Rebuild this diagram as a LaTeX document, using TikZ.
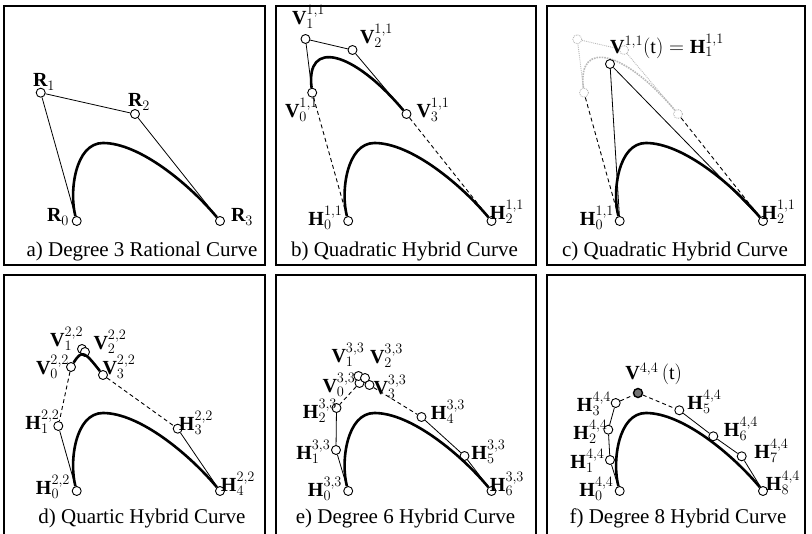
\documentclass[tikz,border=0pt]{standalone}
\usepackage{fontspec}
\setmainfont{Liberation Serif}
\setmathrm{Liberation Serif}
\setboldmathrm{Liberation Serif}
\DeclareMathSizes{20}{20}{14.5}{10}
\newcommand{\mainarc}[3]{%
  \draw[curve] (#1) .. controls (69,192) and (75,143) .. (#2)
    .. controls (140,143) and (190,185) .. (#3);}

\begin{document}
\begin{tikzpicture}[x=1pt, y=-1pt,
  every node/.style={inner sep=0pt},
  ctrl/.style={circle, draw, fill=white, line width=0.9pt, minimum size=9pt},
  ghostpt/.style={circle, draw=gray!55, densely dotted, line width=0.9pt, minimum size=9pt},
  poly/.style={line width=0.8pt},
  guide/.style={line width=0.9pt, dash pattern=on 4pt off 3pt},
  ghost/.style={draw=gray!55, densely dotted, line width=0.9pt},
  curve/.style={line width=2.6pt},
  frame/.style={line width=1.3pt},
  lbl/.style={font=\fontsize{20}{20}\selectfont},
  captext/.style={font=\fontsize{21}{21}\selectfont, anchor=base}
]
\useasboundingbox (0,0) rectangle (812,534);
% Panel a (degree 3 rational)
\begin{scope}
  \draw[frame] (4,6) rectangle (265,265);
  \node[ctrl] (aR0) at (76.7,221) {};
  \node[ctrl] (aR1) at (40.7,92.7) {};
  \node[ctrl] (aR2) at (135,114) {};
  \node[ctrl] (aR3) at (220,221) {};
  \coordinate (aTop) at (103,143);
  \draw[poly] (aR0) -- (aR1) -- (aR2) -- (aR3);
  \mainarc{aR0}{aTop}{aR3}
  \node[lbl] (aR0l) at (58,217) {$\mathbf{R}_0$};
  \node[lbl] (aR1l) at (44,82) {$\mathbf{R}_1$};
  \node[lbl] (aR2l) at (139,102) {$\mathbf{R}_2$};
  \node[lbl] (aR3l) at (242,217) {$\mathbf{R}_3$};
  \node[captext] (acap) at (142,257) {a) Degree 3 Rational Curve};
\end{scope}
% Panel b (quadratic hybrid)
\begin{scope}[shift={(271.5,0)}]
  \draw[frame] (4.5,6) rectangle (264.5,265);
  \node[ctrl] (bV0) at (40.7,92.7) {};
  \node[ctrl] (bV1) at (34,39) {};
  \node[ctrl] (bV2) at (81,50) {};
  \node[ctrl] (bV3) at (135,114) {};
  \node[ctrl] (bH0) at (76.7,221) {};
  \node[ctrl] (bH2) at (220,221) {};
  \coordinate (bTop) at (103,143);
  \draw[poly] (bV0) -- (bV1) -- (bV2) -- (bV3);
  \draw[curve] (bV0) .. controls (bV1) and (bV2) .. (bV3);
  \draw[guide] (bV0) -- (bH0);
  \draw[guide] (bV3) -- (bH2);
  \mainarc{bH0}{bTop}{bH2}
  \node[lbl] (bV0l) at (30,110) {$\mathbf{V}_0^{1,1}$};
  \node[lbl] (bV1l) at (37,17) {$\mathbf{V}_1^{1,1}$};
  \node[lbl] (bV2l) at (105,36) {$\mathbf{V}_2^{1,1}$};
  \node[lbl] (bV3l) at (161.5,110) {$\mathbf{V}_3^{1,1}$};
  \node[lbl] (bH0l) at (54,218) {$\mathbf{H}_0^{1,1}$};
  \node[lbl] (bH2l) at (235.5,212) {$\mathbf{H}_2^{1,1}$};
  \node[captext] (bcap) at (133,257) {b) Quadratic Hybrid Curve};
\end{scope}
% Panel c (quadratic hybrid, V(t) as middle point)
\begin{scope}[shift={(543,0)}]
  \draw[frame] (4,6) rectangle (262,265);
  \node[ghostpt] (cV0) at (41,92.7) {};
  \node[ghostpt] (cV1) at (34.3,39.3) {};
  \node[ghostpt] (cV2) at (81,50) {};
  \node[ghostpt] (cV3) at (135,114) {};
  \draw[ghost] (cV0) -- (cV1) -- (cV2) -- (cV3);
  \draw[ghost, line width=1.6pt] (cV0) .. controls (cV1) and (cV2) .. (cV3);
  \node[ctrl] (cH1) at (67,64) {};
  \node[ctrl] (cH0) at (76.7,221) {};
  \node[ctrl] (cH2) at (220,221) {};
  \coordinate (cTop) at (103,143);
  \draw[guide] (cV0) -- (cH0);
  \draw[guide] (cV3) -- (cH2);
  \draw[poly] (cH0) -- (cH1) -- (cH2);
  \mainarc{cH0}{cTop}{cH2}
  \node[lbl] (cH1l) at (124,46) {$\mathbf{V}^{1,1}(\mathrm{t}) = \mathbf{H}_1^{1,1}$};
  \node[lbl] (cH0l) at (54,218) {$\mathbf{H}_0^{1,1}$};
  \node[lbl] (cH2l) at (235.5,212) {$\mathbf{H}_2^{1,1}$};
  \node[captext] (ccap) at (132,257) {c) Quadratic Hybrid Curve};
\end{scope}
% Panel d (quartic hybrid)
\begin{scope}[shift={(0,270)}]
  \draw[frame] (4,264.5) |- (265,5) -- (265,264.5);
  \node[ctrl] (dV0) at (71,97) {};
  \node[ctrl] (dV1) at (82,79) {};
  \node[ctrl] (dV2) at (85,82) {};
  \node[ctrl] (dV3) at (103,105) {};
  \node[ctrl] (dH1) at (58.3,156) {};
  \node[ctrl] (dH3) at (177.7,158.7) {};
  \node[ctrl] (dH0) at (76.7,221) {};
  \node[ctrl] (dH4) at (220,221) {};
  \coordinate (dTop) at (103,143);
  \draw[curve] (dV0) .. controls (dV1) and (dV2) .. (dV3);
  \draw[guide] (dV0) -- (dH1);
  \draw[guide] (dV3) -- (dH3);
  \draw[poly] (dH0) -- (dH1);
  \draw[poly] (dH3) -- (dH4);
  \mainarc{dH0}{dTop}{dH4}
  \node[lbl] (dV0l) at (52.5,97) {$\mathbf{V}_0^{2,2}$};
  \node[lbl] (dV1l) at (66.7,68.7) {$\mathbf{V}_1^{2,2}$};
  \node[lbl] (dV2l) at (110,72) {$\mathbf{V}_2^{2,2}$};
  \node[lbl] (dV3l) at (119,97) {$\mathbf{V}_3^{2,2}$};
  \node[lbl] (dH1l) at (42.5,152) {$\mathbf{H}_1^{2,2}$};
  \node[lbl] (dH3l) at (196,153) {$\mathbf{H}_3^{2,2}$};
  \node[lbl] (dH0l) at (53,217) {$\mathbf{H}_0^{2,2}$};
  \node[lbl] (dH4l) at (238,214) {$\mathbf{H}_4^{2,2}$};
  \node[captext] (dcap) at (142,254) {d) Quartic Hybrid Curve};
\end{scope}
% Panel e (degree 6 hybrid)
\begin{scope}[shift={(271.5,270)}]
  \draw[frame] (4.5,264.5) |- (264.5,5) -- (264.5,264.5);
  \node[ctrl] (eV0) at (88,113) {};
  \node[ctrl] (eV1) at (87,106) {};
  \node[ctrl] (eV2) at (93.5,108) {};
  \node[ctrl] (eV3) at (98,115) {};
  \node[ctrl] (eH2) at (65,138) {};
  \node[ctrl] (eH1) at (64.5,180) {};
  \node[ctrl] (eH4) at (150,147) {};
  \node[ctrl] (eH5) at (193,186) {};
  \node[ctrl] (eH0) at (76.7,221) {};
  \node[ctrl] (eH6) at (220,221) {};
  \coordinate (eTop) at (103,143);
  \draw[guide] (eV0) -- (eH2);
  \draw[guide] (eV3) -- (eH4);
  \draw[poly] (eH0) -- (eH1) -- (eH2);
  \draw[poly] (eH4) -- (eH5) -- (eH6);
  \mainarc{eH0}{eTop}{eH6}
  \node[lbl] (eV0l) at (67.5,115) {$\mathbf{V}_0^{3,3}$};
  \node[lbl] (eV1l) at (76.5,85) {$\mathbf{V}_1^{3,3}$};
  \node[lbl] (eV2l) at (115,86) {$\mathbf{V}_2^{3,3}$};
  \node[lbl] (eV3l) at (118.5,117) {$\mathbf{V}_3^{3,3}$};
  \node[lbl] (eH2l) at (48.5,141) {$\mathbf{H}_2^{3,3}$};
  \node[lbl] (eH1l) at (41.8,182) {$\mathbf{H}_1^{3,3}$};
  \node[lbl] (eH0l) at (53.5,219) {$\mathbf{H}_0^{3,3}$};
  \node[lbl] (eH4l) at (176.5,142) {$\mathbf{H}_4^{3,3}$};
  \node[lbl] (eH5l) at (217,182) {$\mathbf{H}_5^{3,3}$};
  \node[lbl] (eH6l) at (235.5,214) {$\mathbf{H}_6^{3,3}$};
  \node[captext] (ecap) at (134,254) {e) Degree 6 Hybrid Curve};
\end{scope}
% Panel f (degree 8 hybrid)
\begin{scope}[shift={(543,270)}]
  \draw[frame] (4,264.5) |- (262,5) -- (262,264.5);
  \node[ctrl, fill=black!55, line width=1.4pt] (fV) at (95,123) {};
  \node[ctrl] (fH3) at (72.7,133) {};
  \node[ctrl] (fH2) at (65.3,159.7) {};
  \node[ctrl] (fH1) at (67,190) {};
  \node[ctrl] (fH5) at (136.3,140.3) {};
  \node[ctrl] (fH6) at (170.3,166.3) {};
  \node[ctrl] (fH7) at (198.7,186.3) {};
  \node[ctrl] (fH0) at (76.7,221) {};
  \node[ctrl] (fH8) at (220,221) {};
  \coordinate (fTop) at (103,143);
  \draw[guide] (fH3) -- (fV);
  \draw[guide] (fV) -- (fH5);
  \draw[poly] (fH0) -- (fH1) -- (fH2) -- (fH3);
  \draw[poly] (fH5) -- (fH6) -- (fH7) -- (fH8);
  \mainarc{fH0}{fTop}{fH8}
  \node[lbl] (fVl) at (110.7,104) {$\mathbf{V}^{4,4}\,(\mathrm{t})$};
  \node[lbl] (fH3l) at (51,134) {$\mathbf{H}_3^{4,4}$};
  \node[lbl] (fH2l) at (47.5,162) {$\mathbf{H}_2^{4,4}$};
  \node[lbl] (fH1l) at (44.5,191) {$\mathbf{H}_1^{4,4}$};
  \node[lbl] (fH0l) at (53.5,219) {$\mathbf{H}_0^{4,4}$};
  \node[lbl] (fH5l) at (161.5,132) {$\mathbf{H}_5^{4,4}$};
  \node[lbl] (fH6l) at (198,159) {$\mathbf{H}_6^{4,4}$};
  \node[lbl] (fH7l) at (228.5,181) {$\mathbf{H}_7^{4,4}$};
  \node[lbl] (fH8l) at (240,213) {$\mathbf{H}_8^{4,4}$};
  \node[captext] (fcap) at (135,254) {f) Degree 8 Hybrid Curve};
\end{scope}
\end{tikzpicture}
\end{document}
